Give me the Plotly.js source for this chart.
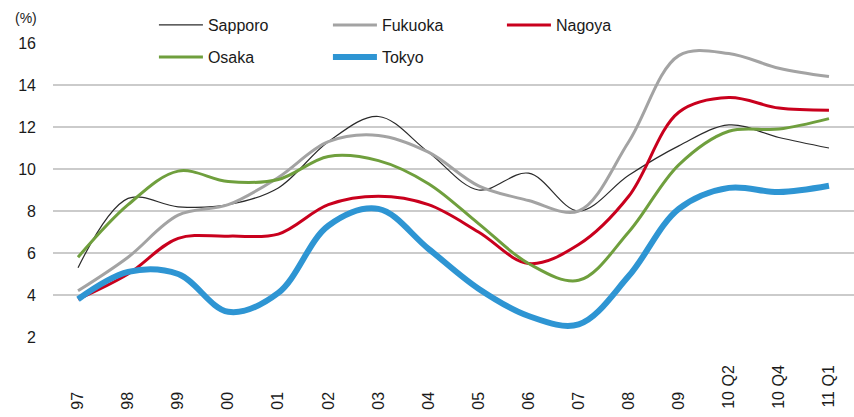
<!DOCTYPE html>
<html>
<head>
<meta charset="utf-8">
<script src="https://cdn.plot.ly/plotly-3.0.1.min.js"></script>
<style>
  body { margin: 0; padding: 0; background: #ffffff; }
  #chart { width: 854px; height: 417px; }
</style>
</head>
<body>
<div id="chart"></div>
<script>
// Category labels (x axis)
let periods = ['97', '98', '99', '00', '01', '02', '03', '04', '05', '06', '07', '08', '09', '10 Q2', '10 Q4', '11 Q1'];

// Series values (%)
let sapporo = [5.3, 8.6, 8.2, 8.3, 9.1, 11.3, 12.5, 10.8, 9.0, 9.8, 8.0, 9.7, 11.1, 12.1, 11.5, 11.0];
let fukuoka = [4.2, 5.8, 7.8, 8.3, 9.6, 11.3, 11.6, 10.8, 9.2, 8.5, 8.0, 11.3, 15.4, 15.5, 14.8, 14.4];
let nagoya  = [3.8, 5.0, 6.7, 6.8, 6.9, 8.3, 8.7, 8.3, 7.0, 5.5, 6.4, 8.7, 12.7, 13.4, 12.9, 12.8];
let osaka   = [5.8, 8.3, 9.9, 9.4, 9.5, 10.6, 10.4, 9.3, 7.4, 5.5, 4.7, 7.0, 10.2, 11.8, 11.9, 12.4];
let tokyo   = [3.8, 5.1, 5.0, 3.2, 4.1, 7.3, 8.1, 6.2, 4.3, 3.0, 2.6, 4.9, 8.1, 9.1, 8.9, 9.2];

let yTicks = [2, 4, 6, 8, 10, 12, 14, 16];

// pad short labels with non-breaking spaces so rotated labels start at the same place
let longest = Math.max(...periods.map(p => p.length));
let xLabels = periods.map(p => p.length < longest ? p + '\u00a0'.repeat(6) : p);

function cityTrace(name, values, color, width, legendId) {
  return {
    x: periods,
    y: values,
    name: name,
    type: 'scatter',
    mode: 'lines',
    line: { color: color, width: width, shape: 'spline', smoothing: 1 },
    legend: legendId,
    hoverinfo: 'skip'
  };
}

let traceSapporo = cityTrace('Sapporo', sapporo, '#2b2b2b', 1.2, 'legend');
let traceFukuoka = cityTrace('Fukuoka', fukuoka, '#a3a3a3', 3, 'legend');
let traceNagoya  = cityTrace('Nagoya', nagoya, '#c9001d', 3, 'legend');
let traceOsaka   = cityTrace('Osaka', osaka, '#6f9f3d', 3, 'legend2');
let traceTokyo   = cityTrace('Tokyo', tokyo, '#2e95d3', 6, 'legend2');

// Tokyo last so it sits on top
let data = [traceSapporo, traceFukuoka, traceNagoya, traceOsaka, traceTokyo];

let legendFont = { family: 'Liberation Sans, Arial, sans-serif', size: 16, color: '#1a1a1a' };

let layout = {
  width: 854,
  height: 417,
  margin: { l: 53, r: 0, t: 43, b: 80 },
  paper_bgcolor: '#ffffff',
  plot_bgcolor: '#ffffff',
  font: { family: 'Liberation Sans, Arial, sans-serif', size: 16, color: '#1a1a1a' },
  showlegend: true,
  legend: {
    orientation: 'h',
    x: 0.126, xanchor: 'left',
    y: 1.061, yanchor: 'middle',
    entrywidth: 115, entrywidthmode: 'pixels',
    itemwidth: 44,
    bgcolor: 'rgba(0,0,0,0)',
    font: legendFont
  },
  legend2: {
    orientation: 'h',
    x: 0.126, xanchor: 'left',
    y: 0.952, yanchor: 'middle',
    entrywidth: 115, entrywidthmode: 'pixels',
    itemwidth: 44,
    bgcolor: 'rgba(0,0,0,0)',
    font: legendFont
  },
  xaxis: {
    type: 'category',
    range: [-0.5, periods.length - 0.5],
    tickvals: periods,
    ticktext: xLabels,
    tickangle: -90,
    showgrid: false,
    zeroline: false,
    showline: false,
    ticks: '',
    ticklabelstandoff: 24,
    tickfont: { size: 16, color: '#1a1a1a' }
  },
  yaxis: {
    range: [2, 16],
    tickvals: yTicks,
    showgrid: true,
    gridcolor: '#cbcbcb',
    gridwidth: 1.5,
    zeroline: false,
    showline: false,
    ticks: '',
    ticklabelstandoff: 16,
    tickfont: { size: 16, color: '#1a1a1a' }
  },
  annotations: [{
    text: '(%)',
    xref: 'paper', yref: 'paper',
    x: 0, y: 1,
    xshift: -27, yshift: 25,
    xanchor: 'center', yanchor: 'middle',
    showarrow: false,
    font: { size: 14, color: '#1a1a1a' }
  }]
};

Plotly.newPlot('chart', data, layout, { displayModeBar: false, staticPlot: true });
</script>
</body>
</html>
